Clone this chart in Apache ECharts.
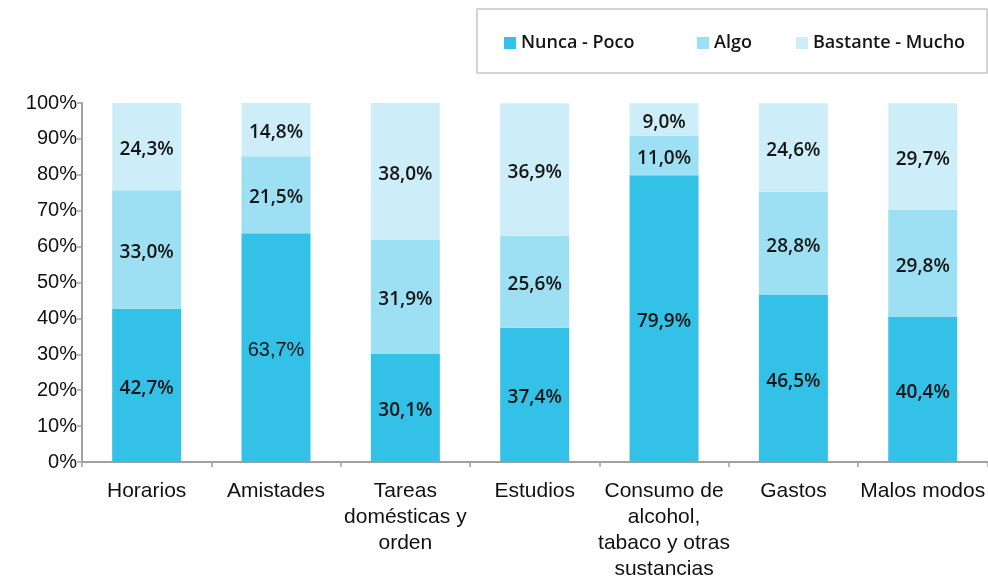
<!DOCTYPE html>
<html>
<head>
<meta charset="utf-8">
<script src="https://cdn.jsdelivr.net/npm/echarts@6/dist/echarts.min.js"></script>
<style>
  html, body { margin: 0; padding: 0; background: #fff; overflow: hidden; }
  #chart { width: 988px; height: 582px; }
</style>
</head>
<body>
<div id="chart"></div>
<script>
// Categories and the three response levels (percent of answers)
const categories = [
  'Horarios',
  'Amistades',
  'Tareas\ndomésticas y\norden',
  'Estudios',
  'Consumo de\nalcohol,\ntabaco y otras\nsustancias',
  'Gastos',
  'Malos modos'
];
const seriesNames = ['Nunca - Poco', 'Algo', 'Bastante - Mucho'];
const nuncaPoco = [42.7, 63.7, 30.1, 37.4, 79.9, 46.5, 40.4];
const algo = [33.0, 21.5, 31.9, 25.6, 11.0, 28.8, 29.8];
const bastanteMucho = [24.3, 14.8, 38.0, 36.9, 9.0, 24.6, 29.7];
const yTicks = [0, 10, 20, 30, 40, 50, 60, 70, 80, 90, 100];

const colors = ['#33c1e8', '#9de0f4', '#cdeef8'];
const labelFont = '"Open Sans", "Noto Sans", sans-serif';
const axisFont = '"Liberation Sans", Arial, sans-serif';

function fmt(v) {
  return v.toFixed(1).replace('.', ',') + '%';
}

function makeSeries(name, values, color, plainIndex) {
  return {
    name: name,
    type: 'bar',
    stack: 'total',
    barWidth: 69,
    itemStyle: { color: color },
    label: {
      show: true,
      position: 'inside',
      offset: [0, 3],
      formatter: p => fmt(p.value),
      color: '#151515',
      fontFamily: labelFont,
      fontWeight: 600,
      fontSize: 19
    },
    data: values.map((v, i) => i === plainIndex
      ? { value: v, label: { fontFamily: axisFont, fontWeight: 'normal', fontSize: 20 } }
      : v)
  };
}

function makeLegend(name, left) {
  return {
    data: [name],
    left: left,
    top: 29,
    itemWidth: 12,
    itemHeight: 12,
    icon: 'rect',
    itemGap: 0,
    textStyle: {
      fontFamily: labelFont,
      fontWeight: 600,
      fontSize: 18,
      color: '#151515'
    }
  };
}

const chart = echarts.init(document.getElementById('chart'), null, { renderer: 'canvas' });
chart.setOption({
  animation: false,
  color: colors,
  graphic: [{
    type: 'rect',
    shape: { x: 477, y: 9, width: 510, height: 64 },
    style: { fill: 'none', stroke: '#c8c8c8', lineWidth: 1.5 },
    z: -1
  }],
  legend: [
    makeLegend(seriesNames[0], 499),
    makeLegend(seriesNames[1], 692),
    makeLegend(seriesNames[2], 791)
  ],
  grid: { left: 82, right: -2, top: 103, bottom: 117, containLabel: false },
  xAxis: {
    type: 'category',
    data: categories,
    axisLine: { lineStyle: { color: '#a0a0a0', width: 2 } },
    axisTick: { show: true, length: 5, alignWithLabel: false, lineStyle: { color: '#a0a0a0', width: 1.5 } },
    axisLabel: {
      interval: 0,
      margin: 16,
      fontFamily: axisFont,
      fontSize: 21,
      lineHeight: 26,
      color: '#111'
    }
  },
  yAxis: {
    type: 'value',
    min: yTicks[0],
    max: yTicks[yTicks.length - 1],
    interval: yTicks[1] - yTicks[0],
    splitLine: { show: false },
    axisLine: { show: true, lineStyle: { color: '#a0a0a0', width: 2 } },
    axisTick: { show: true, length: 5, lineStyle: { color: '#a0a0a0', width: 1.5 } },
    axisLabel: {
      formatter: '{value}%',
      margin: 5,
      fontFamily: axisFont,
      fontSize: 20,
      color: '#111'
    }
  },
  series: [
    makeSeries(seriesNames[0], nuncaPoco, colors[0], 1),
    makeSeries(seriesNames[1], algo, colors[1], -1),
    makeSeries(seriesNames[2], bastanteMucho, colors[2], -1)
  ]
});
</script>
</body>
</html>
